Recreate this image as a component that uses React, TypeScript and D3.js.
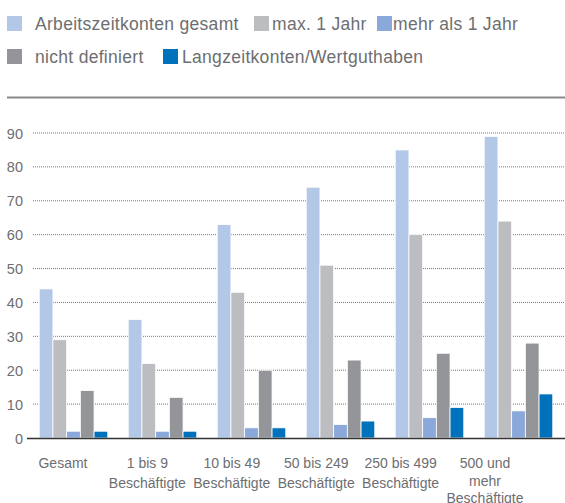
import * as d3 from 'd3';

const categories = ['Gesamt', '1 bis 9 Beschäftigte', '10 bis 49 Beschäftigte', '50 bis 249 Beschäftigte', '250 bis 499 Beschäftigte', '500 und mehr Beschäftigte'];
const categoryLines = [['Gesamt'], ['1 bis 9', 'Beschäftigte'], ['10 bis 49', 'Beschäftigte'], ['50 bis 249', 'Beschäftigte'], ['250 bis 499', 'Beschäftigte'], ['500 und', 'mehr', 'Beschäftigte']];
const seriesNames = ['Arbeitszeitkonten gesamt', 'max. 1 Jahr', 'mehr als 1 Jahr', 'nicht definiert', 'Langzeitkonten/Wertguthaben'];
const gesamt = [44, 35, 63, 74, 85, 89];
const max1Jahr = [29, 22, 43, 51, 60, 64];
const mehrAls1Jahr = [2, 2, 3, 4, 6, 8];
const nichtDefiniert = [14, 12, 20, 23, 25, 28];
const langzeit = [2, 2, 3, 5, 9, 13];
const yTicks = [0, 10, 20, 30, 40, 50, 60, 70, 80, 90];

const colors = ['#b3c7e7', '#bcbdc1', '#8aa9da', '#939598', '#0071bb'];
const seriesValues = [gesamt, max1Jahr, mehrAls1Jahr, nichtDefiniert, langzeit];

export default function App() {
    const width = 565;
    const height = 503;
    const font = '"Liberation Sans", Arial, sans-serif';

    const x0 = d3.scaleBand().domain(categories).range([29, 563]).paddingInner(0.23).paddingOuter(0.115);
    const x1 = d3.scaleBand().domain(seriesNames).range([0, x0.bandwidth()]);
    const labelX = d3.scalePoint().domain(categories).range([63, 485]);
    const y = d3.scaleLinear().domain([0, 90]).range([438, 133]);

    // legend layout: two rows
    const legendRows = [
        [{ i: 0, x: 7 }, { i: 1, x: 254 }, { i: 2, x: 377 }],
        [{ i: 3, x: 7 }, { i: 4, x: 163 }],
    ];
    const legendTextX = [35, 272, 393, 35, 182];

    return (
        <svg width={width} height={height} style={{ position: 'absolute', left: 0, top: 0, background: '#fff' }} fontFamily={font}>
            {legendRows.map((row, r) =>
                row.map(({ i, x }) => (
                    <g key={i}>
                        <rect x={x} y={16 + r * 33} width={15} height={15} fill={colors[i]} />
                        <text x={legendTextX[i]} y={29.5 + r * 33} fontSize={17.5} letterSpacing={0.3} fill="#6d6e71">{seriesNames[i]}</text>
                    </g>
                ))
            )}
            <line x1={7} x2={565} y1={97.5} y2={97.5} stroke="#8a8a8a" strokeWidth={2} />

            {yTicks.map((t) => (
                <g key={t}>
                    {t > 0 && (
                        <line x1={33} x2={565} y1={y(t)} y2={y(t)} stroke="#777" strokeWidth={1} strokeDasharray="1,1" />
                    )}
                    <text x={23} y={y(t) + 5.5} textAnchor="end" fontSize={14.5} fill="#6d6e71">{t}</text>
                </g>
            ))}

            {categories.map((c, ci) => (
                <g key={c} transform={`translate(${x0(c)},0)`}>
                    {seriesNames.map((s, si) => {
                        const v = seriesValues[si][ci];
                        return (
                            <rect key={s} x={x1(s)} y={y(v)} width={x1.bandwidth()} height={y(0) - y(v)}
                                fill={colors[si]} stroke="#fff" strokeWidth={0.8} />
                        );
                    })}
                </g>
            ))}

            <line x1={27} x2={565} y1={y(0) + 0.5} y2={y(0) + 0.5} stroke="#333" strokeWidth={1.5} />

            {categories.map((c, ci) => (
                <text key={c} x={labelX(c)} y={468} textAnchor="middle" fontSize={14} fill="#6d6e71">
                    {categoryLines[ci].map((l, li) => (
                        <tspan key={li} x={labelX(c)} dy={li === 0 ? 0 : (categoryLines[ci].length > 2 ? 17.5 : 19.5)}>{l}</tspan>
                    ))}
                </text>
            ))}
        </svg>
    );
}
